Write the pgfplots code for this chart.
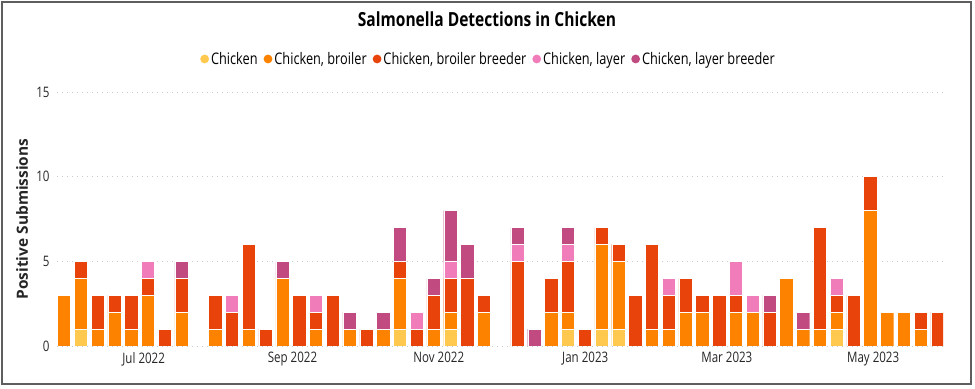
\documentclass[border=0pt]{standalone}
\usepackage{fontspec}
\setmainfont{Open Sans}[FakeStretch=0.8]
\newfontfamily\ylabfont{Open Sans}
\usepackage{pgfplots}
\pgfplotsset{compat=1.18}
\usepackage{pgfplotstable}
\definecolor{cC}{HTML}{FFC94F}
\definecolor{cB}{HTML}{FC8200}
\definecolor{cBB}{HTML}{E8430A}
\definecolor{cL}{HTML}{F07DBA}
\definecolor{cLB}{HTML}{C14B81}
\definecolor{gridc}{HTML}{C8C8C8}
\definecolor{framec}{HTML}{5E5E5E}

\pgfplotstableread{
k C B BB L LB
0 0 3 0 0 0
1 1 3 1 0 0
2 0 1 2 0 0
3 0 2 1 0 0
4 0 1 2 0 0
5 0 3 1 1 0
6 0 0 1 0 0
7 0 2 2 0 1
8 0 0 0 0 0
9 0 1 2 0 0
10 0 0 2 1 0
11 0 1 5 0 0
12 0 0 1 0 0
13 0 4 0 0 1
14 0 0 3 0 0
15 0 1 1 1 0
16 0 0 3 0 0
17 0 1 0 0 1
18 0 0 1 0 0
19 0 1 0 0 1
20 1 3 1 0 2
21 0 0 1 1 0
22 0 1 2 0 1
23 1 1 2 1 3
24 0 0 4 0 2
25 0 2 1 0 0
26 0 0 0 0 0
27 0 0 5 1 1
28 0 0 0 0 1
29 0 2 2 0 0
30 1 1 3 1 1
31 0 0 1 0 0
32 1 5 1 0 0
33 1 4 1 0 0
34 0 0 3 0 0
35 0 1 5 0 0
36 0 1 2 1 0
37 0 2 2 0 0
38 0 2 1 0 0
39 0 0 3 0 0
40 0 2 1 2 0
41 0 2 0 1 0
42 0 0 2 0 1
43 0 4 0 0 0
44 0 1 0 0 1
45 0 1 6 0 0
46 1 1 1 1 0
47 0 0 3 0 0
48 0 8 2 0 0
49 0 2 0 0 0
50 0 2 0 0 0
51 0 1 1 0 0
52 0 0 2 0 0
}\data

\begin{document}
\begin{tikzpicture}
\useasboundingbox (0,0) rectangle (975bp,389bp);
\draw[framec, line width=2bp] (1.8bp,4.5bp) rectangle (971.2bp,387.2bp);
\node[anchor=base, font=\fontsize{19.5}{22}\selectfont\bfseries] at (487bp,362bp) {Salmonella Detections in Chicken};
\begin{axis}[
  at={(57bp,43bp)}, anchor=south west,
  scale only axis, width=886bp, height=254bp,
  xmin=-0.42, xmax=52.33, ymin=0, ymax=15,
  ybar stacked, bar width=0.79,
  axis line style={draw=none}, major tick length=0pt,
  ytick={0,5,10,15},
  ymajorgrids, major grid style={gridc, line width=0.9bp, dash pattern=on 1bp off 4bp},
  xtick={4.74,13.6,22.31,31.03,39.46,48.17},
  xticklabels={Jul 2022,Sep 2022,Nov 2022,Jan 2023,Mar 2023,May 2023},
  /pgf/number format/assume math mode=true,
  tick label style={font=\fontsize{14.5}{16}\selectfont, text=black!85},
  yticklabel style={xshift=-4bp},
  xticklabel style={yshift=-3bp},
  ylabel={\ylabfont\bfseries Positive Submissions},
  every axis y label/.style={at={(rel axis cs:0,0.5)}, rotate=90, anchor=center, yshift=35bp, font=\fontsize{15.5}{18}\selectfont, text=black!85},
  legend style={at={(0.487,1.13)}, anchor=center, draw=none, fill=none,
    font=\fontsize{16}{18}\selectfont, legend columns=5,
    /tikz/every even column/.append style={column sep=4bp},
    inner xsep=0pt, inner ysep=0pt},
  legend image code/.code={\fill[#1,draw=none] (0bp,0bp) circle (4.4bp);},
]
\addplot[fill=cC, draw=white, line width=0.4bp] table[x=k,y=C]{\data};
\addplot[fill=cB, draw=white, line width=0.4bp] table[x=k,y=B]{\data};
\addplot[fill=cBB, draw=white, line width=0.4bp] table[x=k,y=BB]{\data};
\addplot[fill=cL, draw=white, line width=0.4bp] table[x=k,y=L]{\data};
\addplot[fill=cLB, draw=white, line width=0.4bp] table[x=k,y=LB]{\data};
\legend{Chicken,{Chicken, broiler},{Chicken, broiler breeder},{Chicken, layer},{Chicken, layer breeder}}
\end{axis}
\end{tikzpicture}
\end{document}
